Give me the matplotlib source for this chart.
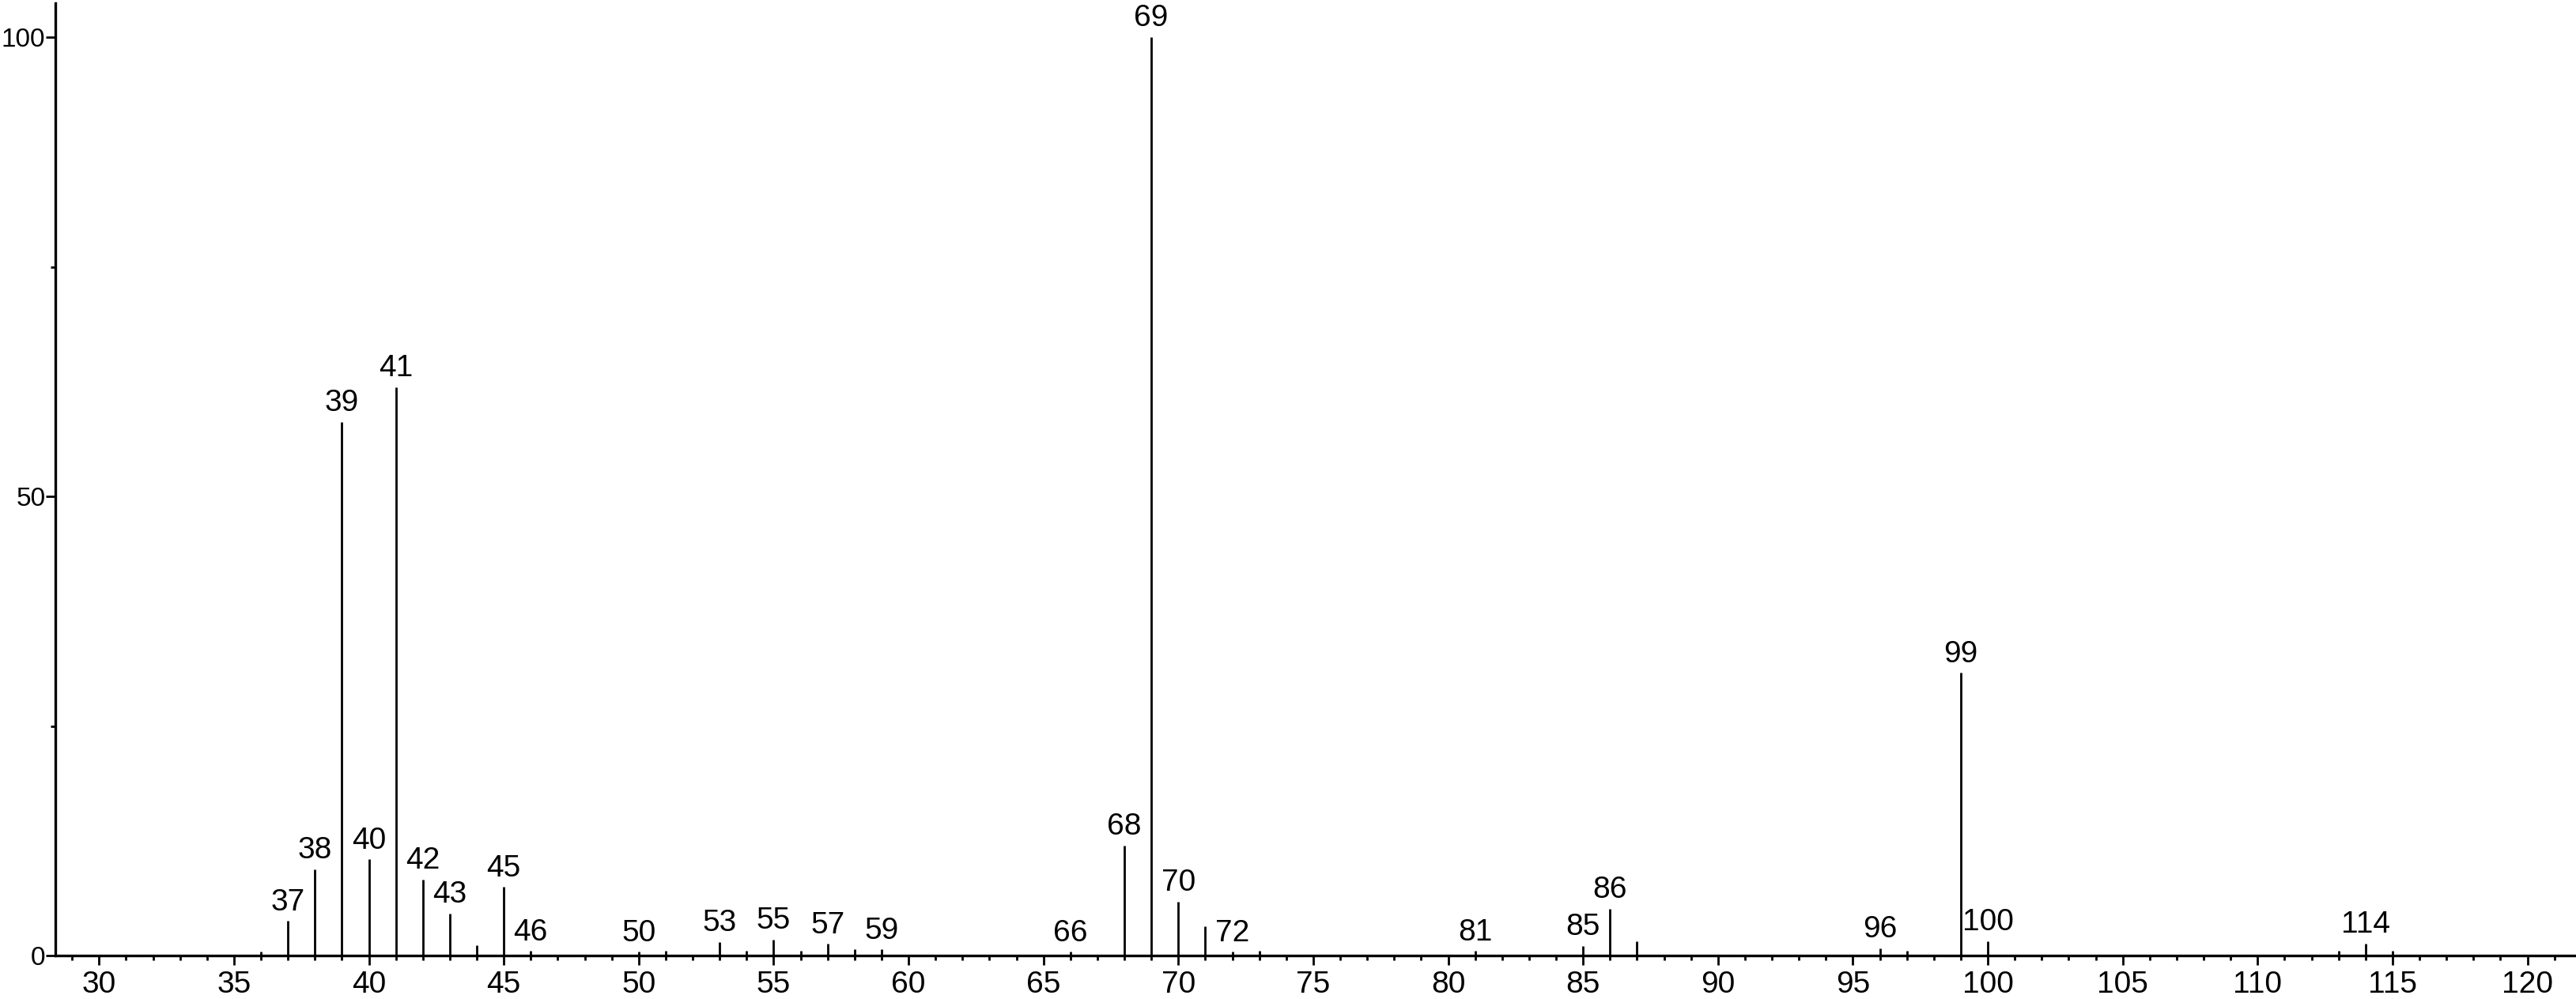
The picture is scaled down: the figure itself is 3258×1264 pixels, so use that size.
import matplotlib
matplotlib.use("Agg")
import matplotlib.pyplot as plt
from matplotlib.ticker import MultipleLocator, FixedLocator

plt.rcParams['font.family'] = ['Liberation Sans Narrow', 'Liberation Sans', 'DejaVu Sans']

# m/z values and relative intensities
mz = [36, 37, 38, 39, 40, 41, 42, 43, 44, 45, 46, 50, 51, 53, 54, 55, 56, 57, 58, 59,
      66, 68, 69, 70, 71, 72, 73, 81, 85, 86, 87, 96, 97, 99, 100, 113, 114, 115]
intensity = [0.45, 3.8, 9.4, 58.1, 10.5, 61.9, 8.3, 4.6, 1.15, 7.5, 0.5, 0.45, 0.5, 1.5, 0.5,
             1.75, 0.5, 1.3, 0.7, 0.7, 0.45, 12.0, 100.0, 5.9, 3.2, 0.45, 0.5, 0.5, 1.06, 5.1,
             1.6, 0.8, 0.5, 30.8, 1.6, 0.5, 1.35, 0.5]
labelled = [37, 38, 39, 40, 41, 42, 43, 45, 46, 50, 53, 55, 57, 59, 66, 68, 69, 70, 72,
            81, 85, 86, 96, 99, 100, 114]

x_major = list(range(30, 125, 5))
y_major = [0, 50, 100]
y_minor = [25, 75]

W, H, DPI = 3258, 1264, 100
fig = plt.figure(figsize=(W / DPI, H / DPI), dpi=DPI)
ax = fig.add_axes([70 / W, (H - 1209.3) / H, 1 - 70 / W, (1209.3 - 4) / H])

ax.vlines(mz, 0, intensity, colors='black', linewidth=2.0)
for m, v in zip(mz, intensity):
    if m in labelled:
        ax.annotate(str(m), (m, v), xytext=(0, 4), textcoords='offset points',
                    ha='center', va='bottom', fontsize=28)

ax.set_xlim(28.38, 121.8)
ax.set_ylim(0, 103.7)
for s in ['top', 'right']:
    ax.spines[s].set_visible(False)
for s in ['left', 'bottom']:
    ax.spines[s].set_linewidth(2.4)

ax.xaxis.set_major_locator(FixedLocator(x_major))
ax.xaxis.set_minor_locator(MultipleLocator(1))
ax.yaxis.set_major_locator(FixedLocator(y_major))
ax.yaxis.set_minor_locator(FixedLocator(y_minor))
ax.tick_params(axis='both', which='major', length=8.5, width=2.0, direction='out')
ax.tick_params(axis='both', which='minor', length=4, width=2.0, direction='out')
ax.tick_params(axis='x', which='major', pad=5, labelsize=28)
ax.tick_params(axis='y', which='major', pad=0.5, labelsize=24)

fig.savefig('out.png', dpi=DPI, facecolor='white')
